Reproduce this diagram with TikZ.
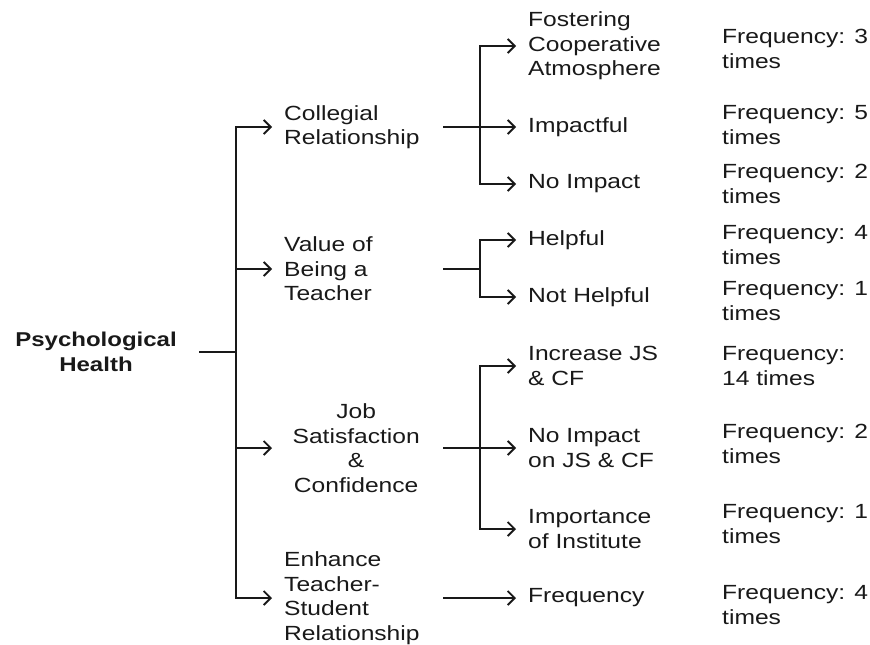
\documentclass[tikz,border=0pt]{standalone}
\usepackage{fontspec}
\setmainfont{Liberation Sans}[FakeStretch=1.2]
\usetikzlibrary{arrows.meta}
\begin{document}
\begin{tikzpicture}[x=1pt,y=-1pt,
  txt/.style={font=\fontsize{20.5}{24.5}\selectfont, inner xsep=0pt, inner ysep=0pt, align=left, anchor=west, text=black!90},
  rootnode/.style={font=\fontsize{20}{24.5}\selectfont\bfseries, inner sep=0pt, align=center, text=black!90},
  line/.style={line width=1.8pt, draw=black!90},
  tip/.style={Straight Barb[length=7pt,width=14pt]},
  arr/.style={line, -{Straight Barb[length=7pt,width=14pt]}, shorten >=12pt},
  arr2/.style={line, {Straight Barb[length=7pt,width=14pt]}-{Straight Barb[length=7pt,width=14pt]}, shorten >=12pt, shorten <=12pt},
]
\useasboundingbox (0,0) rectangle (870,645);
% root
\node[rootnode] (root) at (96,352) {Psychological\\Health};
\coordinate (r0) at (199,352);
\coordinate (t0) at (236,352);
% level 1
\node[txt] (coll) at (284,127) {Collegial\\Relationship};
\node[txt] (val) at (284,269) {Value of\\Being a\\Teacher};
\node[txt, text width=144pt, align=center] (job) at (284,448) {Job\\Satisfaction\\\&\\Confidence};
\node[txt] (enh) at (284,598) {Enhance\\Teacher-\\Student\\Relationship};
% level 2
\node[txt] (fos) at (528,46) {Fostering\\Cooperative\\Atmosphere};
\node[txt] (imp) at (528,127) {Impactful};
\node[txt] (noi) at (528,184) {No Impact};
\node[txt] (hel) at (528,240) {Helpful};
\node[txt] (nhe) at (528,297) {Not Helpful};
\node[txt] (inc) at (528,366) {Increase JS\\\& CF};
\node[txt] (noj) at (528,448) {No Impact\\on JS \& CF};
\node[txt] (imi) at (528,529) {Importance\\of Institute};
\node[txt] (fre) at (528,598) {Frequency};
% frequencies
\node[txt] (f1) at (722,49) {Frequency: 3\\times};
\node[txt] (f2) at (722,125) {Frequency: 5\\times};
\node[txt] (f3) at (722,184) {Frequency: 2\\times};
\node[txt] (f4) at (722,245) {Frequency: 4\\times};
\node[txt] (f5) at (722,301) {Frequency: 1\\times};
\node[txt] (f6) at (722,366) {Frequency:\\14 times};
\node[txt] (f7) at (722,444) {Frequency: 2\\times};
\node[txt] (f8) at (722,524) {Frequency: 1\\times};
\node[txt] (f9) at (722,605) {Frequency: 4\\times};
% coordinates for level-2 junctions
\coordinate (b1) at (443,127); \coordinate (k1) at (480,127);
\coordinate (b2) at (443,269); \coordinate (k2) at (480,269);
\coordinate (b3) at (443,448); \coordinate (k3) at (480,448);
\coordinate (b4) at (443,598);
% trunk
\draw[line] (r0) -- (t0);
\draw[arr2] (coll.west) -| (t0) |- (enh.west);
\draw[arr] (t0 |- val.west) -- (val.west);
\draw[arr] (t0 |- job.west) -- (job.west);
% collegial
\draw[arr2] (fos.west) -| (k1) |- (noi.west);
\draw[arr] (b1) -- (imp.west);
% value
\draw[line] (b2) -- (k2);
\draw[arr2] (hel.west) -| (k2) |- (nhe.west);
% job
\draw[arr2] (inc.west) -| (k3) |- (imi.west);
\draw[arr] (b3) -- (noj.west);
% enhance
\draw[arr] (b4) -- (fre.west);
\end{tikzpicture}
\end{document}
